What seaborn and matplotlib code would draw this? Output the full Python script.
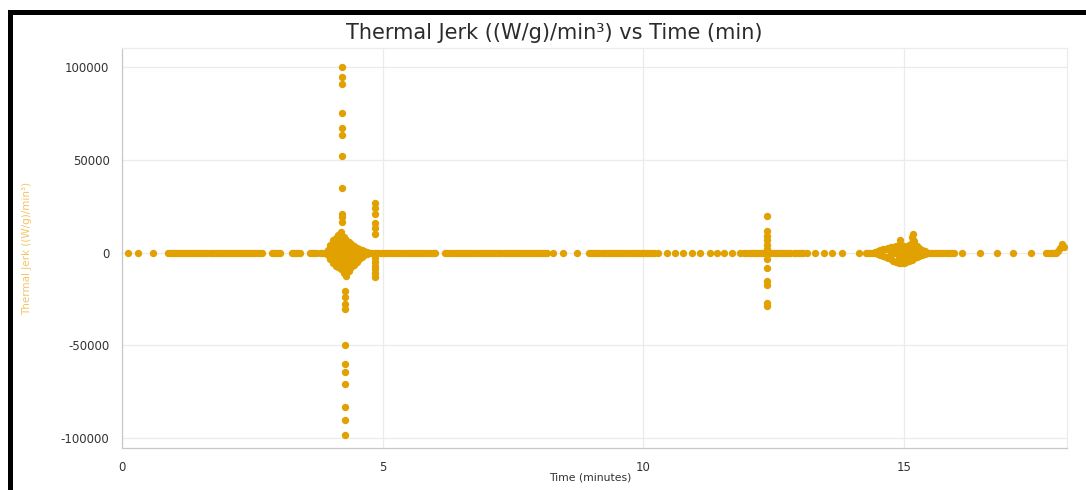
import numpy as np
import pandas as pd
import matplotlib
matplotlib.use("Agg")
import matplotlib.pyplot as plt
import seaborn as sns
from matplotlib.patches import Rectangle
from matplotlib.ticker import MultipleLocator

# ---------------- data ----------------
# baseline samples (value ~ 0)
baseline_t = [
    0.12, 0.31, 0.60,
    0.88, 0.92, 0.96, 1.00, 1.04, 1.08, 1.12, 1.16, 1.20, 1.24, 1.28, 1.32, 1.36, 1.40,
    1.44, 1.48, 1.52, 1.56, 1.60, 1.64, 1.68, 1.72, 1.76, 1.80, 1.84, 1.88, 1.92, 1.96,
    2.00, 2.04, 2.08, 2.12, 2.16, 2.20, 2.24, 2.28, 2.32, 2.36, 2.40, 2.44, 2.48, 2.52,
    2.56, 2.60, 2.64, 2.68,
    2.88, 2.92, 2.96, 3.00, 3.04, 3.26, 3.30, 3.34, 3.38, 3.42,
    3.60, 3.64, 3.68, 3.72, 3.80, 3.84, 3.88, 3.92,
    4.74, 4.78, 4.82,
    4.88, 4.92, 4.96, 5.00, 5.04, 5.08, 5.12, 5.16, 5.20, 5.24, 5.28, 5.32, 5.36, 5.40,
    5.44, 5.48, 5.52, 5.56, 5.60, 5.64, 5.68, 5.72, 5.76, 5.80, 5.84, 5.88, 5.92, 5.96, 6.00,
    6.20, 6.24, 6.28, 6.32, 6.36, 6.40, 6.44, 6.48, 6.52, 6.56, 6.60, 6.64, 6.68, 6.72,
    6.76, 6.80, 6.84, 6.88, 6.92, 6.96, 7.00, 7.04, 7.08, 7.12, 7.16, 7.20, 7.24, 7.28,
    7.32, 7.36, 7.40, 7.44, 7.48, 7.52, 7.56, 7.60, 7.64, 7.68, 7.72, 7.76, 7.80, 7.84,
    7.88, 7.92, 7.96, 8.00, 8.04, 8.08, 8.12, 8.16,
    8.27, 8.46, 8.73,
    8.96, 9.00, 9.04, 9.08, 9.12, 9.16, 9.20, 9.24, 9.28, 9.32, 9.36, 9.40, 9.44, 9.48,
    9.52, 9.56, 9.60, 9.64, 9.68, 9.72, 9.76, 9.80, 9.84, 9.88, 9.92, 9.96, 10.00, 10.04,
    10.08, 10.12, 10.16, 10.20,
    10.29, 10.46, 10.61, 10.77, 10.94, 11.09, 11.29, 11.42, 11.54, 11.71, 11.86,
    11.94, 11.98, 12.02, 12.06, 12.10, 12.14, 12.18, 12.22, 12.26, 12.30, 12.34,
    12.42, 12.46, 12.50, 12.54, 12.58, 12.62, 12.66, 12.70, 12.74, 12.78, 12.82,
    12.90, 12.94, 12.98, 13.02, 13.06,
    13.15, 13.30, 13.46, 13.63, 13.82, 14.13,
    14.28, 14.32, 14.36, 14.40,
    15.44, 15.48, 15.52, 15.56, 15.60, 15.64, 15.68, 15.72, 15.76, 15.80, 15.84, 15.88,
    15.92, 15.96,
    16.12, 16.47, 16.79, 17.10, 17.43,
    17.72, 17.76, 17.80, 17.84, 17.88, 17.92,
]

# oscillating cluster around 4.2 min: sample times and the values seen at each
cluster1_times = [3.95, 4.00, 4.05, 4.10, 4.15, 4.20, 4.25, 4.30, 4.35, 4.40, 4.45,
                  4.50, 4.55, 4.60, 4.65, 4.70]
cluster1_values = [
    [1500, 0, -1500],
    [4000, 2000, -1500, -3500],
    [6500, 3500, 500, -2500, -5500],
    [8000, 5000, 2000, -1500, -4500, -7000],
    [9500, 6500, 3000, 0, -3500, -6000, -8000],
    [11000, 7500, 4000, 500, -3000, -6000, -9000],
    [8500, 5500, 2500, -1000, -4500, -8000, -11000],
    [7000, 4000, 1000, -2500, -6000, -9500, -12500],
    [5500, 2500, -500, -3500, -7000, -10000],
    [4500, 1500, -1500, -5000, -8000],
    [3500, 500, -3000, -6500],
    [2500, -1000, -5000],
    [2000, -1000, -3500],
    [1500, -500, -2500],
    [800, -1500],
    [400, -600],
]

# large spike at ~4.2 min
spike1_pos_t = 4.22
spike1_pos_v = [100000, 94500, 91000, 75500, 67000, 63500, 52000, 35000, 21000, 19000, 16500]
spike1_neg_t = 4.28
spike1_neg_v = [-20500, -24000, -27500, -30500, -50000, -60000, -64500, -71000, -83500,
                -90500, -98500]

# spike at ~4.85 min
spike2_t = 4.85
spike2_v = [26500, 24000, 21000, 16000, 13000, 10000, 0,
            -3000, -5000, -7000, -9000, -11000, -13000]

# spike at ~12.4 min
spike3_t = 12.38
spike3_v = [19500, 11500, 9000, 6500, 4000, 2000, 0, -3500, -8500, -15500, -17500,
            -27000, -29000]

# cluster around 15 min
cluster2_times = [14.45, 14.50, 14.55, 14.60, 14.65, 14.70, 14.75, 14.80, 14.85, 14.90,
                  14.93, 14.95, 15.00, 15.05, 15.10, 15.15, 15.17, 15.20, 15.25, 15.30,
                  15.35, 15.40]
cluster2_values = [
    [500, -500],
    [1000, -1000],
    [1500, -1500],
    [2000, -2000],
    [2000, -2500],
    [2500, -3000],
    [3000, 0, -3500],
    [3000, 0, -4500],
    [3500, 0, -5000],
    [4000, 500, -2500, -5500],
    [6500, 3000],
    [4000, 500, -2500, -5800],
    [3500, 500, -2500, -5500],
    [3000, 0, -3000, -5000],
    [4000, 1000, -2000, -4500],
    [8500, 5000, 2000, -1500, -4000],
    [10000, 7000],
    [6000, 3000, 0, -3000],
    [3500, 500, -2500],
    [2500, -2000],
    [1500, -1500],
    [800, -800],
]

# small rise at the end
end_t = [17.96, 18.00, 18.04, 18.08]
end_v = [1000, 2500, 4500, 3000]

x_ticks = [0, 5, 10, 15]
y_ticks = [-100000, -50000, 0, 50000, 100000]

title = "Thermal Jerk ((W/g)/min³) vs Time (min)"
x_label = "Time (minutes)"
y_label = "Thermal Jerk ((W/g)/min³)"

# ---------------- assemble ----------------
c1_t = [t for t, vs in zip(cluster1_times, cluster1_values) for _ in vs]
c1_v = [v for vs in cluster1_values for v in vs]
c2_t = [t for t, vs in zip(cluster2_times, cluster2_values) for _ in vs]
c2_v = [v for vs in cluster2_values for v in vs]

t_all = (list(baseline_t) + c1_t + [spike1_pos_t] * len(spike1_pos_v)
         + [spike1_neg_t] * len(spike1_neg_v) + [spike2_t] * len(spike2_v)
         + [spike3_t] * len(spike3_v) + c2_t + end_t)
v_all = ([0] * len(baseline_t) + c1_v + spike1_pos_v + spike1_neg_v + spike2_v
         + spike3_v + c2_v + end_v)
df = pd.DataFrame({"time": t_all, "jerk": v_all})

sns.set_style("white")
plt.rcParams["font.family"] = ["DejaVu Sans"]

fig = plt.figure(figsize=(10.86, 4.90), dpi=100)
ax = fig.add_axes([122 / 1086, 1 - 448 / 490, (1067 - 122) / 1086, (448 - 48) / 490])

point_color = "#E1A100"
sns.scatterplot(data=df, x="time", y="jerk", color=point_color, s=28, linewidth=0,
                ax=ax, zorder=3)

ax.set_xlim(0, 18.13)
ax.set_ylim(-105400, 110300)
ax.set_xticks(x_ticks)
ax.set_xticklabels([str(v) for v in x_ticks])
ax.set_yticks(y_ticks)
ax.set_yticklabels([str(v) for v in y_ticks])
ax.xaxis.set_minor_locator(MultipleLocator(1))
ax.yaxis.set_minor_locator(MultipleLocator(12500))

ax.grid(True, which="major", color="#ebebeb", linewidth=0.9, zorder=0)
ax.set_axisbelow(True)
for side in ["left", "bottom"]:
    ax.spines[side].set_color("#c8c8c8")
    ax.spines[side].set_linewidth(0.9)
for side in ["top", "right"]:
    ax.spines[side].set_color("#ececec")
    ax.spines[side].set_linewidth(0.9)

ax.tick_params(axis="both", which="major", labelsize=8.5, labelcolor="#333333",
               color="#bbbbbb", length=3, width=0.8, direction="out", pad=6)
ax.tick_params(axis="both", which="minor", color="#cccccc", length=2.5, width=0.7,
               direction="out")

ax.set_xlabel(x_label, fontsize=7.8, color="#333333")
ax.xaxis.set_label_coords(0.495, -0.062)
ax.set_ylabel(y_label, fontsize=7.5, color="#F2C468")
ax.yaxis.set_label_coords(-0.095, 0.5)

fig.text(0.51, 1 - 33 / 490, title, ha="center", va="center", fontsize=15,
         color="#2b2b2b")

# black frame of the screenshot (left and top edges visible)
fig.add_artist(Rectangle((9.5 / 1086, -0.2), 1.5, 1 - 11.7 / 490 + 0.2,
                         transform=fig.transFigure, fill=False, edgecolor="black",
                         linewidth=3.6, clip_on=False))

fig.savefig("out.png", dpi=100)
